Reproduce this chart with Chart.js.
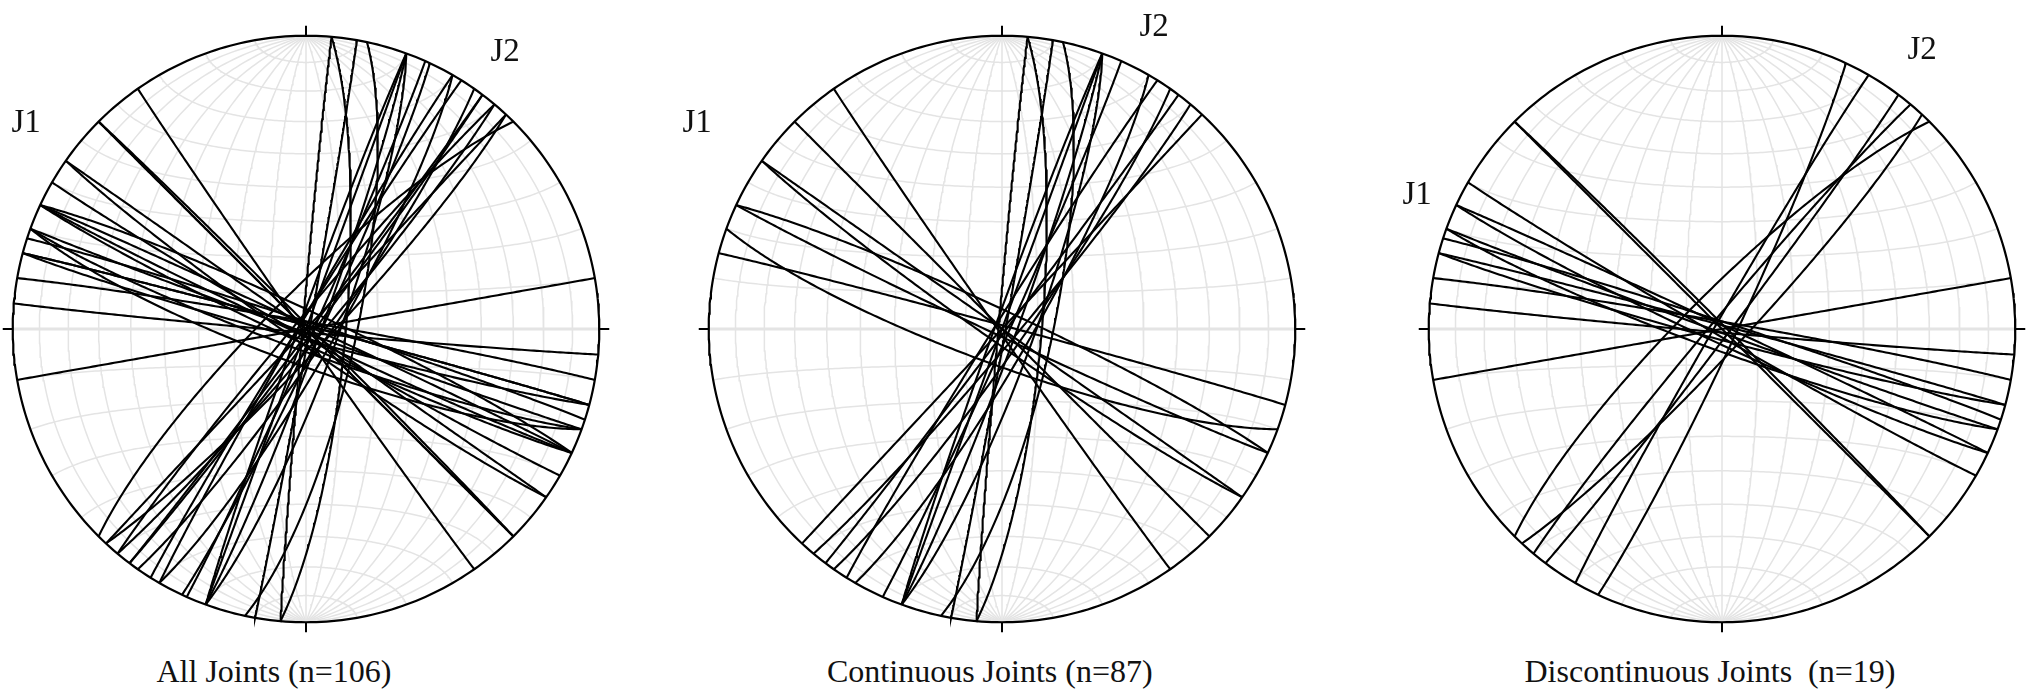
<!DOCTYPE html>
<html>
<head>
<meta charset="utf-8">
<title>Joint stereonets</title>
<script src="https://cdn.jsdelivr.net/npm/chart.js@4.4.1/dist/chart.umd.min.js"></script>
<style>
  html, body { margin: 0; padding: 0; background: #fff; overflow: hidden; }
  #page { position: relative; width: 2034px; height: 691px; }
  canvas { position: absolute; }
  .lbl { position: absolute; font-family: "Liberation Serif", "Times New Roman", serif; color: #111; white-space: pre; line-height: 1; }
  .set { font-size: 33px; }
  .title { font-size: 32px; }
</style>
</head>
<body>
<div id="page"></div>
<script>
// planes as strike / dip, right-hand rule, degrees
var contStrike = [5, 185, 10, 12, 20, 20, 200, 20, 24, 30, 212, 35, 37, 40, 43,
                  145, 135, 125, 125, 115, 295, 110, 285];
var contDip    = [79, 89, 89, 76, 90, 81, 88, 86, 88, 82, 88, 84, 89, 86, 90,
                  89, 90, 90, 86, 88, 85, 80, 89];

var discStrike = [80, 95, 280, 105, 285, 288, 110, 110, 115, 295, 120, 135, 315,
                  25, 210, 37, 220, 43, 225];
var discDip    = [90, 89, 88, 87, 89, 88, 84, 89, 86, 89, 88, 90, 89,
                  86, 88, 88, 87, 84, 80];

var allStrike = contStrike.concat(discStrike);
var allDip = contDip.concat(discDip);

var titles = ['All Joints (n=106)', 'Continuous Joints (n=87)', 'Discontinuous Joints  (n=19)'];
var setNames = ['J1', 'J2'];

// layout
var R = 293.5;          // net radius, px
var SPAN = 1.04;        // axis range in net radii
var SIZE = Math.round(2 * SPAN * R);
var CY = 329;
var panelX = [305.5, 1002, 1721.5];
var titleX = [274, 990, 1710];
var setPos = [
  [[26, 121], [505, 50]],
  [[697, 121], [1154, 25]],
  [[1417, 193], [1922, 48]]
];

var rad = Math.PI / 180;

// lower hemisphere, equal-area (Schmidt) projection of a unit vector (E, N, Down)
function project(e, n, d) {
  var k = 1 / Math.sqrt(1 + d);
  return { x: e * k, y: n * k };
}

function greatCircle(strike, dip) {
  var s = strike * rad, dd = (strike + 90) * rad, p = dip * rad;
  var pts = [];
  for (var a = 0; a <= 180; a += 1) {
    var c = Math.cos(a * rad), sn = Math.sin(a * rad);
    var e = c * Math.sin(s) + sn * Math.cos(p) * Math.sin(dd);
    var n = c * Math.cos(s) + sn * Math.cos(p) * Math.cos(dd);
    var d = sn * Math.sin(p);
    pts.push(project(e, n, Math.max(d, 0)));
  }
  return pts;
}

// cone of half-angle alpha about the N-S axis
function smallCircle(alpha) {
  var pts = [];
  var al = alpha * rad;
  for (var b = 0; b <= 180; b += 1) {
    var br = b * rad;
    pts.push(project(Math.sin(al) * Math.cos(br), Math.cos(al), Math.sin(al) * Math.sin(br)));
  }
  return pts;
}

function lineSet(pts, color, width, order) {
  return {
    data: pts, showLine: true, borderColor: color, borderWidth: width,
    pointRadius: 0, fill: false, tension: 0, order: order, borderCapStyle: 'butt'
  };
}

function netDatasets(strikes, dips) {
  var sets = [];
  var grid = '#e4e4e4';
  for (var d = 10; d <= 90; d += 10) {
    sets.push(lineSet(greatCircle(0, d), grid, 1.5, 5));
    if (d < 90) sets.push(lineSet(greatCircle(180, d), grid, 1.5, 5));
  }
  for (var a = 10; a < 180; a += 10) {
    sets.push(lineSet(smallCircle(a), grid, a === 90 ? 3.2 : 1.5, 5));
  }
  for (var i = 0; i < strikes.length; i++) {
    sets.push(lineSet(greatCircle(strikes[i], dips[i]), '#000', 2.1, 2));
  }
  var rim = [];
  for (var t = 0; t <= 360; t += 1) rim.push({ x: Math.sin(t * rad), y: Math.cos(t * rad) });
  sets.push(lineSet(rim, '#000', 2.2, 1));
  var tick = 10 / R;
  [[0, 1], [1, 0], [0, -1], [-1, 0]].forEach(function (v) {
    sets.push(lineSet([{ x: v[0], y: v[1] }, { x: v[0] * (1 + tick), y: v[1] * (1 + tick) }], '#000', 2, 1));
  });
  return sets;
}

var page = document.getElementById('page');
var panels = [[allStrike, allDip], [contStrike, contDip], [discStrike, discDip]];

panels.forEach(function (pd, k) {
  var cv = document.createElement('canvas');
  cv.width = SIZE; cv.height = SIZE;
  cv.style.left = (panelX[k] - SIZE / 2) + 'px';
  cv.style.top = (CY - SIZE / 2) + 'px';
  page.appendChild(cv);

  new Chart(cv, {
    type: 'scatter',
    data: { datasets: netDatasets(pd[0], pd[1]) },
    options: {
      responsive: false,
      animation: false,
      events: [],
      layout: { padding: 0 },
      plugins: { legend: { display: false }, tooltip: { enabled: false } },
      scales: {
        x: { type: 'linear', min: -SPAN, max: SPAN, display: false },
        y: { type: 'linear', min: -SPAN, max: SPAN, display: false }
      }
    }
  });

  var t = document.createElement('div');
  t.className = 'lbl title';
  t.textContent = titles[k];
  page.appendChild(t);
  t.style.left = (titleX[k] - t.offsetWidth / 2) + 'px';
  t.style.top = (671 - t.offsetHeight / 2) + 'px';

  setNames.forEach(function (name, j) {
    var s = document.createElement('div');
    s.className = 'lbl set';
    s.textContent = name;
    page.appendChild(s);
    s.style.left = (setPos[k][j][0] - s.offsetWidth / 2) + 'px';
    s.style.top = (setPos[k][j][1] - s.offsetHeight / 2) + 'px';
  });
});
</script>
</body>
</html>
